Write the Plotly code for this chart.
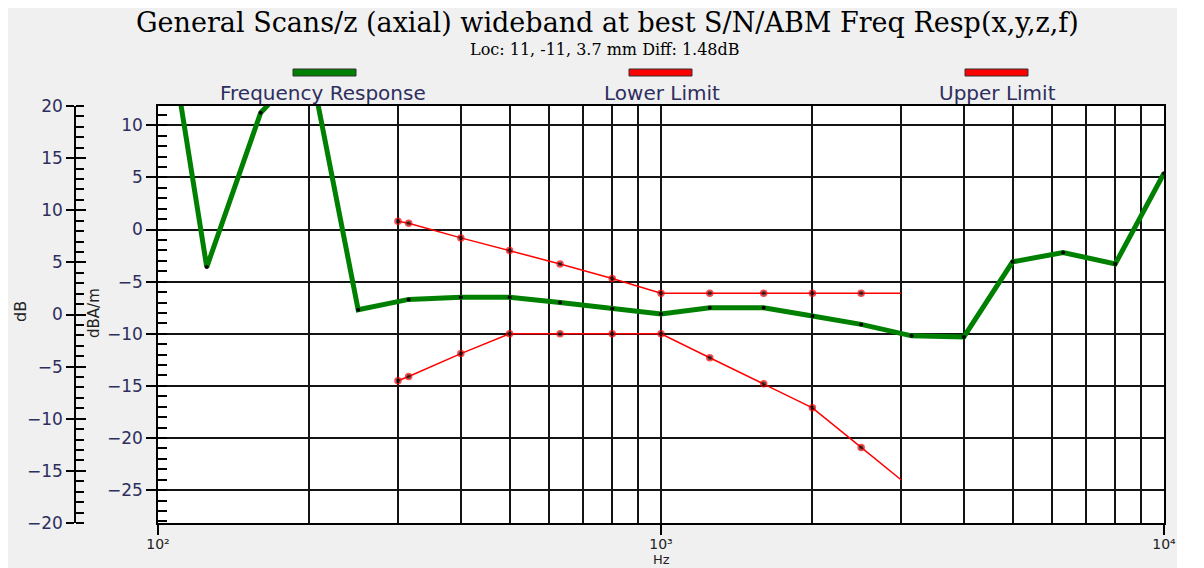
import plotly.graph_objects as go

# ---------------- data ----------------
fr_freq = [100, 125, 160, 200, 250, 315, 400, 500, 630, 800, 1000, 1250, 1600,
           2000, 2500, 3150, 4000, 5000, 6300, 8000, 10000]
fr_resp = [25.8, -3.6, 11.2, 16.2, -7.7, -6.7, -6.5, -6.5, -7.0, -7.6, -8.1, -7.5,
           -7.5, -8.3, -9.1, -10.2, -10.3, -3.1, -2.2, -3.3, 5.4]

lim_freq = [300, 315, 400, 500, 630, 800, 1000, 1250, 1600, 2000, 2500, 3000]
upper_lim = [0.8, 0.6, -0.8, -2.0, -3.3, -4.7, -6.1, -6.1, -6.1, -6.1, -6.1, -6.1]
lower_lim = [-14.5, -14.1, -11.9, -10.0, -10.0, -10.0, -10.0, -12.3, -14.8,
             -17.1, -20.9, -24.0]

x_tickvals = [100, 1000, 10000]
x_ticktext = ["10²", "10³", "10⁴"]

title_text = "General Scans/z (axial) wideband at best S/N/ABM Freq Resp(x,y,z,f)"
subtitle_text = "Loc: 11, -11, 3.7 mm Diff: 1.48dB"
legend_names = ["Frequency Response", "Lower Limit", "Upper Limit"]

# ---------------- geometry helpers ----------------
# the page body has an 8px margin, so the figure is placed at (8, 8)
OFF = 8
W, H = 1196, 560
ML, MR, MT, MB = 42, 40, 98, 45
PW, PH = W - ML - MR, H - MT - MB


def px(xr):
    """reference-window x pixel -> paper fraction"""
    return (xr - OFF - ML) / PW


def py(yr):
    """reference-window y pixel -> paper fraction"""
    return (H - MB - (yr - OFF)) / PH


LBL = "#2e2e5e"
GRID = "#141414"

fig = go.Figure()

fig.add_trace(go.Scatter(
    x=fr_freq, y=fr_resp, mode="lines+markers", name=legend_names[0],
    line=dict(color="#008000", width=5),
    marker=dict(color="black", size=4, line=dict(width=0)),
    showlegend=False, hoverinfo="skip"))

marker_sizes = [6] * (len(lim_freq) - 1) + [0]
fig.add_trace(go.Scatter(
    x=lim_freq, y=lower_lim, mode="lines+markers", name=legend_names[1],
    line=dict(color="#ff0000", width=1.5),
    marker=dict(color="black", size=marker_sizes, line=dict(color="#ff0000", width=1.5)),
    showlegend=False, hoverinfo="skip"))
fig.add_trace(go.Scatter(
    x=lim_freq, y=upper_lim, mode="lines+markers", name=legend_names[2],
    line=dict(color="#ff0000", width=1.5),
    marker=dict(color="black", size=marker_sizes, line=dict(color="#ff0000", width=1.5)),
    showlegend=False, hoverinfo="skip"))

# empty traces so the secondary axes are drawn
fig.add_trace(go.Scatter(x=[], y=[], yaxis="y2", showlegend=False))
fig.add_trace(go.Scatter(x=[], y=[], yaxis="y3", showlegend=False))

axis_font = dict(family="DejaVu Sans", size=17, color=LBL)

fig.update_layout(
    template="none",
    width=W, height=H,
    margin=dict(l=ML, r=MR, t=MT, b=MB, autoexpand=False),
    paper_bgcolor="white", plot_bgcolor="white",
    xaxis=dict(
        type="log", range=[2, 4], domain=[px(158), 1], automargin=False,
        tickmode="array", tickvals=x_tickvals, ticktext=x_ticktext,
        ticks="outside", ticklen=10, tickwidth=1.5, tickcolor="black",
        ticklabelstandoff=-3,
        tickfont=dict(family="DejaVu Sans", size=14, color="#222"),
        showgrid=True, gridcolor=GRID, gridwidth=1.5,
        minor=dict(dtick="D1", showgrid=True, gridcolor=GRID, gridwidth=1.5, ticks=""),
        showline=True, linecolor="black", linewidth=1.5, mirror=True,
        zeroline=False,
    ),
    yaxis=dict(
        range=[-28.15, 11.85], tick0=0, dtick=5, automargin=False,
        ticks="outside", ticklen=10, tickwidth=1.5, tickcolor="black",
        tickfont=axis_font,
        minor=dict(dtick=1, ticks="inside", ticklen=9, tickwidth=1.5, tickcolor="black", showgrid=False),
        showgrid=True, gridcolor=GRID, gridwidth=1.5,
        showline=True, linecolor="black", linewidth=1.5, mirror=True,
        zeroline=False,
    ),
    yaxis2=dict(
        range=[-20, 20], tick0=0, dtick=5, overlaying="y", anchor="free",
        position=px(75), side="left", automargin=False,
        ticks="outside", ticklen=8, tickwidth=1.5, tickcolor="black",
        tickfont=axis_font,
        minor=dict(dtick=1, ticks="inside", ticklen=8, tickwidth=1.5, tickcolor="black", showgrid=False),
        showgrid=False, zeroline=False,
        showline=True, linecolor="black", linewidth=1.5,
    ),
    yaxis3=dict(
        range=[-20, 20], tick0=0, dtick=5, overlaying="y", anchor="free",
        position=px(75), side="left", automargin=False,
        ticks="inside", ticklen=10, tickwidth=1.5, tickcolor="black",
        showticklabels=False, showgrid=False, zeroline=False, showline=False,
    ),
)

shapes = [
    # grey panel
    dict(type="rect", xref="paper", yref="paper", layer="below",
         x0=px(OFF), x1=px(1177), y0=py(568), y1=py(OFF),
         fillcolor="#f0f0f0", line=dict(width=0)),
    # white plot area
    dict(type="rect", xref="paper", yref="paper", layer="below",
         x0=px(158), x1=px(1164), y0=py(523), y1=py(106),
         fillcolor="white", line=dict(width=0)),
]
legend_bars = [(293, 356, "#008000"), (629, 692, "#ff0000"), (965, 1028, "#ff0000")]
for (a, b, c) in legend_bars:
    shapes.append(dict(type="rect", xref="paper", yref="paper",
                       x0=px(a), x1=px(b), y0=py(76), y1=py(69),
                       fillcolor=c, line=dict(color="#333", width=1)))
fig.update_layout(shapes=shapes)

annotations = [
    dict(text=title_text, x=px(607), y=py(23), xref="paper", yref="paper",
         showarrow=False, xanchor="center", yanchor="middle",
         font=dict(family="DejaVu Serif", size=27, color="black")),
    dict(text=subtitle_text, x=px(605), y=py(50), xref="paper", yref="paper",
         showarrow=False, xanchor="center", yanchor="middle",
         font=dict(family="DejaVu Serif", size=16, color="black")),
    dict(text="dB", x=px(20), y=py(312), xref="paper", yref="paper",
         showarrow=False, textangle=-90, xanchor="center", yanchor="middle",
         font=dict(family="DejaVu Sans", size=16, color="#222")),
    dict(text="dBA/m", x=px(94), y=py(313), xref="paper", yref="paper",
         showarrow=False, textangle=-90, xanchor="center", yanchor="middle",
         font=dict(family="DejaVu Sans", size=15, color="#222")),
    dict(text="Hz", x=px(661), y=py(559), xref="paper", yref="paper",
         showarrow=False, xanchor="center", yanchor="middle",
         font=dict(family="DejaVu Sans", size=13, color="#222")),
]
legend_centers = [323, 662, 997]
for name, cx in zip(legend_names, legend_centers):
    annotations.append(dict(text=name, x=px(cx), y=py(93), xref="paper", yref="paper",
                            showarrow=False, xanchor="center", yanchor="middle",
                            font=dict(family="DejaVu Sans", size=20, color=LBL)))
fig.update_layout(annotations=annotations)

fig.write_html("out.html")
